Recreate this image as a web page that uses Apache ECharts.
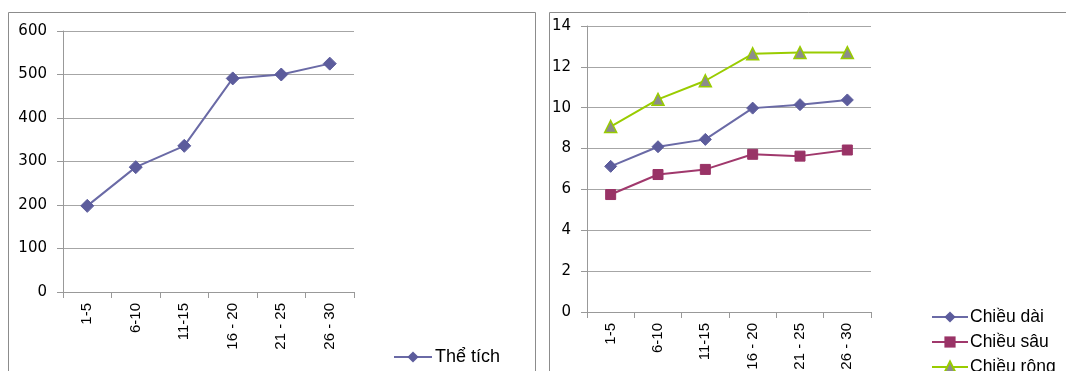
<!DOCTYPE html>
<html>
<head>
<meta charset="utf-8">
<script src="https://cdn.jsdelivr.net/npm/echarts@6/dist/echarts.min.js"></script>
<style>
html,body{margin:0;padding:0;background:#fff;}
#c{width:1066px;height:371px;}
</style>
</head>
<body>
<div id="c"></div>
<script>
const categories = ['1-5', '6-10', '11-15', '16 - 20', '21 - 25', '26 - 30'];
const theTich = [198, 287, 336, 491, 500, 525];
const chieuDai = [7.13, 8.09, 8.45, 9.98, 10.15, 10.38];
const chieuSau = [5.75, 6.73, 6.98, 7.72, 7.63, 7.93];
const chieuRong = [9.08, 10.41, 11.32, 12.64, 12.7, 12.7];
const leftTicks = { min: 0, max: 600, interval: 100 };
const rightTicks = { min: 0, max: 14, interval: 2 };

const chart = echarts.init(document.getElementById('c'), null, { renderer: 'canvas' });

const catAxis = (gi) => ({
  type: 'category', gridIndex: gi, data: categories, boundaryGap: true,
  axisLine: { lineStyle: { color: '#999', width: 1 } },
  axisTick: { show: true, length: 6, alignWithLabel: false, lineStyle: { color: '#999' } },
  axisLabel: { rotate: 90, margin: 11, color: '#000', fontFamily: 'Liberation Sans', fontSize: 15, interval: 0, hideOverlap: false }
});
const valAxis = (gi, t) => ({
  type: 'value', gridIndex: gi, min: t.min, max: t.max, interval: t.interval,
  axisLine: { show: true, lineStyle: { color: '#999', width: 1 } },
  axisTick: { show: true, length: 6, lineStyle: { color: '#999' } },
  axisLabel: { margin: 16, color: '#000', fontFamily: 'DejaVu Sans', fontSize: 15 },
  splitLine: { lineStyle: { color: '#A6A6A6', width: 1 } }
});

chart.setOption({
  animation: false,
  graphic: [
    { type: 'rect', shape: { x: 8.5, y: 12.5, width: 527, height: 400 }, style: { fill: 'none', stroke: '#8C8C8C', lineWidth: 1 }, silent: true },
    { type: 'rect', shape: { x: 549.5, y: 12.5, width: 600, height: 400 }, style: { fill: 'none', stroke: '#8C8C8C', lineWidth: 1 }, silent: true }
  ],
  grid: [
    { left: 63, top: 31, width: 291, height: 261, outerBoundsMode: 'none', containLabel: false },
    { left: 587, top: 26, width: 284, height: 286, outerBoundsMode: 'none', containLabel: false }
  ],
  xAxis: [catAxis(0), catAxis(1)],
  yAxis: [valAxis(0, leftTicks), valAxis(1, rightTicks)],
  legend: [
    {
      data: ['Thể tích'], left: 393, top: 348, orient: 'vertical', height: 40,
      itemWidth: 38, itemHeight: 14, padding: 0,
      textStyle: { fontFamily: 'Liberation Sans', fontSize: 18, color: '#000', padding: [0, 0, 0, -2] }
    },
    {
      data: ['Chiều dài', 'Chiều sâu', 'Chiều rộng'], left: 931, top: 308, orient: 'vertical', height: 100,
      itemWidth: 36, itemHeight: 14, itemGap: 7, padding: 0,
      textStyle: { fontFamily: 'Liberation Sans', fontSize: 17.5, color: '#000', padding: [0, 0, 0, -3] }
    }
  ],
  series: [
    {
      name: 'Thể tích', type: 'line', xAxisIndex: 0, yAxisIndex: 0, data: theTich,
      symbol: 'diamond', symbolSize: 13,
      lineStyle: { color: '#6A6AA6', width: 2 },
      itemStyle: { color: '#5C5C9C', borderColor: '#5C5C9C' }
    },
    {
      name: 'Chiều dài', type: 'line', xAxisIndex: 1, yAxisIndex: 1, data: chieuDai,
      symbol: 'diamond', symbolSize: 12,
      lineStyle: { color: '#6A6AA6', width: 2 },
      itemStyle: { color: '#5C5C9C', borderColor: '#5C5C9C' }
    },
    {
      name: 'Chiều sâu', type: 'line', xAxisIndex: 1, yAxisIndex: 1, data: chieuSau,
      symbol: 'rect', symbolSize: 10,
      lineStyle: { color: '#A0386C', width: 2 },
      itemStyle: { color: '#993366', borderColor: '#993366' }
    },
    {
      name: 'Chiều rộng', type: 'line', xAxisIndex: 1, yAxisIndex: 1, data: chieuRong,
      symbol: 'triangle', symbolSize: 12,
      lineStyle: { color: '#99CC00', width: 2 },
      itemStyle: { color: '#8C8C8C', borderColor: '#99CC00', borderWidth: 1.5 }
    }
  ]
});
</script>
</body>
</html>
